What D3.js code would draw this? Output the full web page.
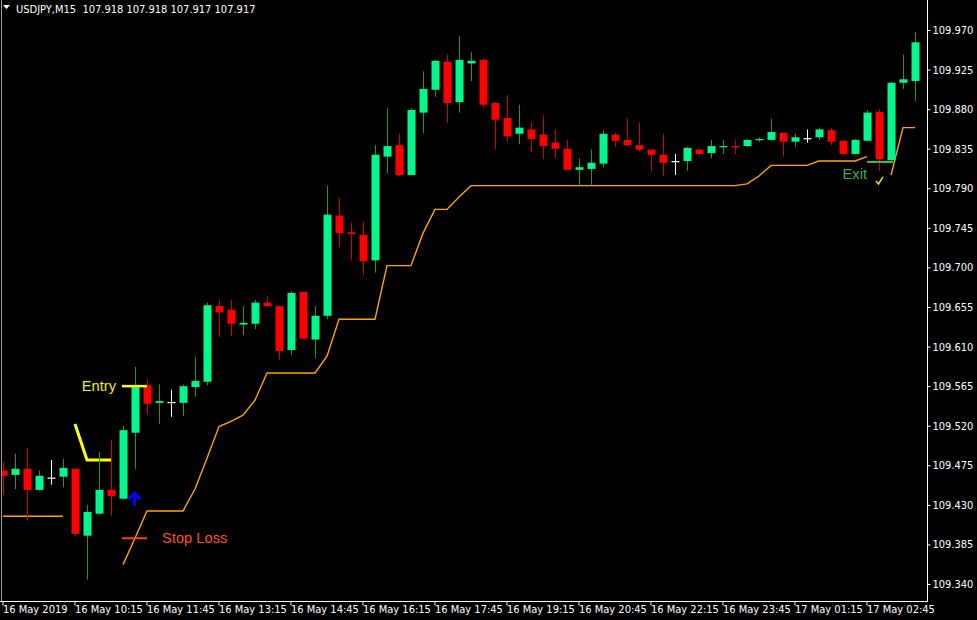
<!DOCTYPE html>
<html>
<head>
<meta charset="utf-8">
<script src="https://cdn.jsdelivr.net/npm/d3@7"></script>
<style>
  html, body { margin: 0; padding: 0; background: #000; }
  svg { display: block; }
  .ax text { fill: #ffffff; font-family: "Liberation Sans Narrow", "DejaVu Sans Condensed", "Liberation Sans", Arial, sans-serif; font-size: 11px; }
</style>
</head>
<body>
<svg id="chart" width="977" height="620"></svg>
<script>
// ---- data (USDJPY M15) ----
const opens  = [109.469,109.464,109.471,109.447,109.461,109.462,109.471,109.395,109.420,109.447,
                109.437,109.512,109.566,109.546,109.547,109.546,109.564,109.570,109.656,109.652,
                109.635,109.636,109.660,109.656,109.606,109.672,109.618,109.645,109.759,109.740,
                109.737,109.708,109.826,109.839,109.805,109.876,109.902,109.934,109.888,109.932,
                109.936,109.887,109.870,109.852,109.857,109.851,109.842,109.835,109.811,109.812,
                109.818,109.851,109.845,109.839,109.834,109.828,109.821,109.821,109.834,109.830,
                109.837,109.838,109.838,109.845,109.845,109.853,109.843,109.847,109.848,109.856,
                109.844,109.829,109.844,109.877,109.822,109.910,109.912];
const highs  = [109.479,109.488,109.495,109.469,109.481,109.482,109.471,109.430,109.490,109.504,
                109.520,109.587,109.573,109.567,109.561,109.567,109.598,109.660,109.663,109.663,
                109.656,109.663,109.668,109.656,109.673,109.673,109.656,109.793,109.779,109.751,
                109.752,109.839,109.881,109.852,109.881,109.923,109.936,109.942,109.963,109.945,
                109.938,109.888,109.896,109.885,109.865,109.873,109.857,109.845,109.824,109.834,
                109.856,109.853,109.869,109.865,109.834,109.852,109.829,109.837,109.835,109.845,
                109.845,109.845,109.846,109.848,109.869,109.853,109.852,109.857,109.859,109.859,
                109.845,109.846,109.879,109.880,109.911,109.942,109.968];
const lows   = [109.441,109.448,109.412,109.446,109.453,109.450,109.394,109.345,109.419,109.417,
                109.436,109.471,109.532,109.522,109.530,109.531,109.553,109.566,109.621,109.622,
                109.623,109.630,109.655,109.595,109.600,109.618,109.597,109.641,109.723,109.708,
                109.691,109.694,109.807,109.804,109.805,109.853,109.894,109.864,109.876,109.912,
                109.882,109.834,109.843,109.840,109.831,109.823,109.824,109.811,109.794,109.794,
                109.814,109.837,109.839,109.832,109.809,109.804,109.805,109.810,109.827,109.824,
                109.829,109.829,109.837,109.843,109.844,109.826,109.837,109.842,109.845,109.839,
                109.827,109.829,109.844,109.810,109.822,109.903,109.889];
const closes = [109.463,109.471,109.447,109.463,109.461,109.472,109.397,109.422,109.447,109.440,
                109.515,109.564,109.545,109.548,109.547,109.565,109.571,109.657,109.649,109.636,
                109.637,109.660,109.656,109.605,109.671,109.619,109.645,109.760,109.739,109.738,
                109.707,109.828,109.838,109.805,109.879,109.903,109.935,109.887,109.936,109.935,
                109.885,109.868,109.849,109.859,109.846,109.838,109.835,109.811,109.814,109.819,
                109.852,109.844,109.839,109.834,109.828,109.819,109.821,109.836,109.829,109.838,
                109.838,109.837,109.845,109.846,109.854,109.843,109.848,109.847,109.857,109.843,
                109.829,109.845,109.876,109.823,109.910,109.914,109.956];
// trailing stop line (null = not drawn)
const trailStop = [109.417,109.417,109.417,109.417,109.417,109.417,null,null,null,null,
                   109.362,109.392,109.423,109.423,109.423,109.423,109.448,109.483,109.519,109.525,
                   109.532,109.549,109.580,109.580,109.580,109.580,109.580,109.599,109.641,109.641,
                   109.641,109.641,109.702,109.702,109.702,109.739,109.766,109.766,109.780,109.793,
                   109.793,109.793,109.793,109.793,109.793,109.793,109.793,109.793,109.793,109.793,
                   109.793,109.793,109.793,109.793,109.793,109.793,109.793,109.793,109.793,109.793,
                   109.793,109.793,109.795,109.804,109.816,109.816,109.816,109.816,109.821,109.821,
                   109.821,109.821,109.826,null,109.805,109.859,109.859];
// yellow entry-level line
const entryLineIdx = [6, 7, 8, 9];
const entryLineVal = [109.522, 109.481, 109.481, 109.481];
// signal annotations
const signalIdx = 11;
const entryPrice = 109.565;
const stopPrice = 109.392;
const arrowPrice = 109.445;
const exitIdx = 73;
const exitPrice = 109.820;
// axis ticks
const priceTicks = [109.340,109.385,109.430,109.475,109.520,109.565,109.610,109.655,109.700,109.745,109.790,109.835,109.880,109.925,109.970];
const timeTickIdx = [0,6,12,18,24,30,36,42,48,54,60,66,72];
const timeTickLabels = ["16 May 2019","16 May 10:15","16 May 11:45","16 May 13:15","16 May 14:45","16 May 16:15",
                        "16 May 17:45","16 May 19:15","16 May 20:45","16 May 22:15","16 May 23:45","17 May 01:15","17 May 02:45"];
const headerText = "USDJPY,M15  107.918 107.918 107.917 107.917";

// ---- layout ----
const svg = d3.select("#chart");
const plotRight = 927, plotBottom = 601;
const x = d3.scaleLinear().domain([0, 76]).range([3, 915]);
const y = d3.scaleLinear().domain([109.340, 109.970]).range([584, 30]);

svg.append("rect").attr("width", 977).attr("height", 620).attr("fill", "#000");

// frame lines
svg.append("line").attr("x1", 1.5).attr("x2", 1.5).attr("y1", 0).attr("y2", plotBottom)
  .attr("stroke", "#9a9a9a").attr("stroke-width", 1);
svg.append("line").attr("x1", plotRight + 0.5).attr("x2", plotRight + 0.5).attr("y1", 0).attr("y2", plotBottom + 0.5)
  .attr("stroke", "#ffffff").attr("stroke-width", 1);
svg.append("line").attr("x1", 0).attr("x2", plotRight + 0.5).attr("y1", plotBottom + 0.5).attr("y2", plotBottom + 0.5)
  .attr("stroke", "#ffffff").attr("stroke-width", 1);

// axes
const yAxis = d3.axisRight(y).tickValues(priceTicks).tickSize(3).tickSizeOuter(0).tickFormat(d3.format(".3f"));
const gy = svg.append("g").attr("class", "ax").attr("transform", `translate(${plotRight + 0.5},0)`).call(yAxis);
gy.select(".domain").remove();
gy.selectAll(".tick line").attr("stroke", "#ffffff");
gy.selectAll(".tick text").attr("x", 5);

const xAxis = d3.axisBottom(x).tickValues(timeTickIdx).tickSize(4).tickSizeOuter(0)
  .tickFormat((d, i) => timeTickLabels[i]);
const gx = svg.append("g").attr("class", "ax").attr("transform", `translate(-0.5,${plotBottom + 0.5})`).call(xAxis);
gx.select(".domain").remove();
gx.selectAll(".tick line").attr("stroke", "#ffffff");
gx.selectAll(".tick text").attr("text-anchor", "start").attr("x", 0).attr("y", 4);

// clip for plot
svg.append("clipPath").attr("id", "plotClip").append("rect")
  .attr("x", 2).attr("y", 0).attr("width", plotRight - 2).attr("height", plotBottom);
const plot = svg.append("g").attr("clip-path", "url(#plotClip)");

// trailing stop line
const trailLine = d3.line().defined(d => d[1] != null).x(d => x(d[0])).y(d => y(d[1]));
plot.append("path").datum(trailStop.map((v, i) => [i, v]))
  .attr("d", trailLine).attr("fill", "none").attr("stroke", "#ffa500").attr("stroke-width", 1.4);

// yellow entry level line
plot.append("path").datum(entryLineIdx.map((v, i) => [v, entryLineVal[i]]))
  .attr("d", d3.line().x(d => x(d[0])).y(d => y(d[1])))
  .attr("fill", "none").attr("stroke", "#ffff00").attr("stroke-width", 3);

// candles
const candles = opens.map((o, i) => ({ i, o, h: highs[i], l: lows[i], c: closes[i] }));
const bodyW = 8;
const g = plot.append("g").selectAll("g").data(candles).join("g");
function kind(d) { return d.c > d.o ? "up" : (d.c < d.o ? "down" : "doji"); }
const wickCol = { up: "#00a050", down: "#d00000", doji: "#ffffff" };
const bodyCol = { up: "#00f88c", down: "#ff0000", doji: "#ffffff" };
g.append("line")
  .attr("x1", d => Math.round(x(d.i)) + 0.5).attr("x2", d => Math.round(x(d.i)) + 0.5)
  .attr("y1", d => y(d.h)).attr("y2", d => y(d.l))
  .attr("stroke", d => wickCol[kind(d)]).attr("stroke-width", 1);
g.append("rect")
  .attr("x", d => Math.round(x(d.i)) - bodyW / 2 + 0.5)
  .attr("y", d => Math.min(y(d.o), y(d.c)))
  .attr("width", bodyW)
  .attr("height", d => Math.max(1.2, Math.abs(y(d.o) - y(d.c))))
  .attr("fill", d => bodyCol[kind(d)]);

// entry marker
const sx = x(signalIdx);
plot.append("line").attr("x1", sx - 13).attr("x2", sx + 12).attr("y1", y(entryPrice)).attr("y2", y(entryPrice))
  .attr("stroke", "#ffff00").attr("stroke-width", 2.5);
svg.append("text").attr("x", sx - 19).attr("y", y(entryPrice) + 5).attr("text-anchor", "end")
  .attr("fill", "#f0f000").attr("font-family", "'Liberation Sans', Arial, sans-serif").attr("font-size", 14.7)
  .text("Entry");

// stop loss marker
plot.append("line").attr("x1", sx - 13).attr("x2", sx + 12).attr("y1", y(stopPrice)).attr("y2", y(stopPrice))
  .attr("stroke", "#ff4500").attr("stroke-width", 2);
svg.append("text").attr("x", sx + 27).attr("y", y(stopPrice) + 5)
  .attr("fill", "#ff5020").attr("font-family", "'Liberation Sans', Arial, sans-serif").attr("font-size", 14.7)
  .text("Stop Loss");

// blue buy arrow
const ay = y(arrowPrice);
plot.append("path")
  .attr("d", `M${sx - 6.5},${ay + 7.5} L${sx - 0.5},${ay + 1.5} L${sx + 5.5},${ay + 7.5}`)
  .attr("fill", "none").attr("stroke", "#0000ff").attr("stroke-width", 3).attr("stroke-linejoin", "miter");
plot.append("line").attr("x1", sx - 0.5).attr("x2", sx - 0.5).attr("y1", ay + 2).attr("y2", ay + 14)
  .attr("stroke", "#0000ff").attr("stroke-width", 3);

// exit marker
const ex = x(exitIdx);
plot.append("line").attr("x1", ex - 12).attr("x2", ex + 14).attr("y1", y(exitPrice)).attr("y2", y(exitPrice))
  .attr("stroke", "#3cc83c").attr("stroke-width", 2);
svg.append("text").attr("x", ex - 12).attr("y", y(exitPrice) + 17).attr("text-anchor", "end")
  .attr("fill", "#3cb43c").attr("font-family", "'Liberation Sans', Arial, sans-serif").attr("font-size", 14.7)
  .text("Exit");
plot.append("path")
  .attr("d", `M${ex - 3},${y(exitPrice) + 19} L${ex - 0.5},${y(exitPrice) + 22} L${ex + 4},${y(exitPrice) + 15}`)
  .attr("fill", "none").attr("stroke", "#e8e800").attr("stroke-width", 1.5);

// header
svg.append("path").attr("d", "M3,5 L10,5 L6.5,9 Z").attr("fill", "#ffffff");
svg.append("text").attr("x", 16).attr("y", 13).attr("fill", "#ffffff")
  .attr("font-family", "'Liberation Sans Narrow', 'DejaVu Sans Condensed', 'Liberation Sans', Arial, sans-serif")
  .attr("font-size", 11).attr("xml:space", "preserve").style("white-space", "pre")
  .text(headerText);
</script>
</body>
</html>
